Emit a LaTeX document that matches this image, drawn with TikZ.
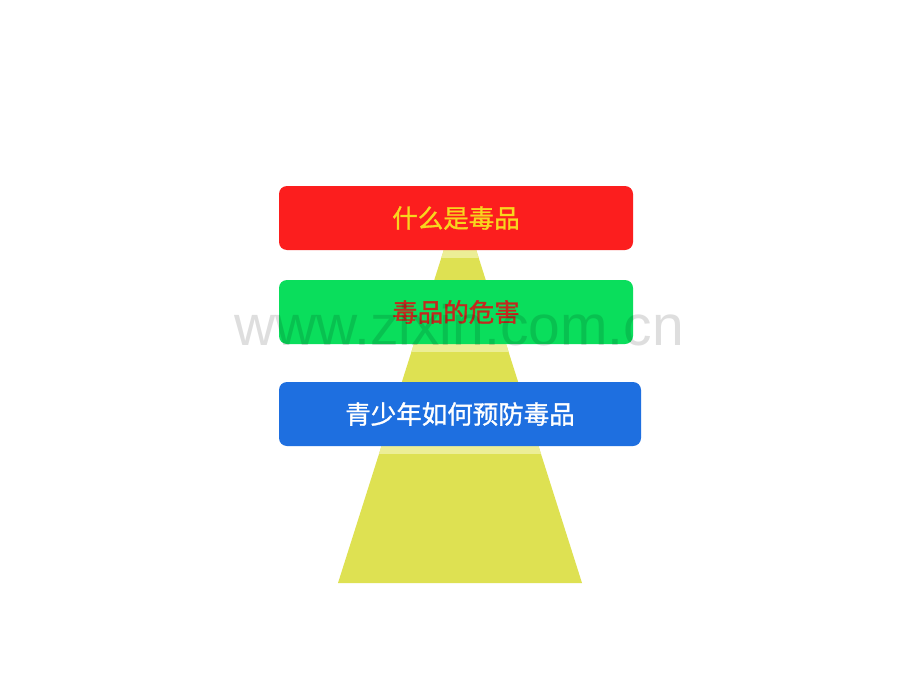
\documentclass[tikz,border=0pt]{standalone}
\usepackage{fontspec}
\newfontfamily\cjk{Noto Sans CJK SC}[FakeBold=1.2]
\newfontfamily\wmfont{Liberation Sans}
\definecolor{boxred}{RGB}{252,30,30}
\definecolor{boxgreen}{RGB}{10,222,92}
\definecolor{boxblue}{RGB}{30,111,224}
\definecolor{tri}{RGB}{222,225,82}
\definecolor{trilight}{RGB}{236,238,150}
\definecolor{txtyellow}{RGB}{248,214,30}
\definecolor{txtred}{RGB}{196,40,30}
\tikzset{
  topicbox/.style={rounded corners=8pt, minimum height=64pt, inner sep=0pt,
    font=\cjk\fontsize{25.5}{29}\selectfont},
}
\begin{document}
\begin{tikzpicture}[x=1pt,y=-1pt]
\fill[white] (0,0) rectangle (920,690);
\useasboundingbox (0,0) rectangle (920,690);
% triangle
\coordinate (apex) at (460,199);
\coordinate (bl) at (338,583);
\coordinate (br) at (582,583);
\fill[tri] (apex) -- (br) -- (bl) -- cycle;
\begin{scope}
  \clip (apex) -- (br) -- (bl) -- cycle;
  \fill[trilight] (300,250) rectangle (620,258);
  \fill[trilight] (300,344) rectangle (620,352);
  \fill[trilight] (300,446) rectangle (620,454);
\end{scope}
% boxes
\node[topicbox, fill=boxred, minimum width=354pt, text=txtyellow] (b1) at (456,218) {什么是毒品};
\node[topicbox, fill=boxgreen, minimum width=354pt, text=txtred] (b2) at (456,312) {毒品的危害};
\node[topicbox, fill=boxblue, minimum width=362pt, text=white] (b3) at (460,414) {青少年如何预防毒品};
% watermark
\node[anchor=base, inner sep=0pt, text=black, text opacity=0.13, font=\wmfont\fontsize{57}{60}\selectfont] (wm) at (459,345) {www.zixin.com.cn};
\end{tikzpicture}
\end{document}
